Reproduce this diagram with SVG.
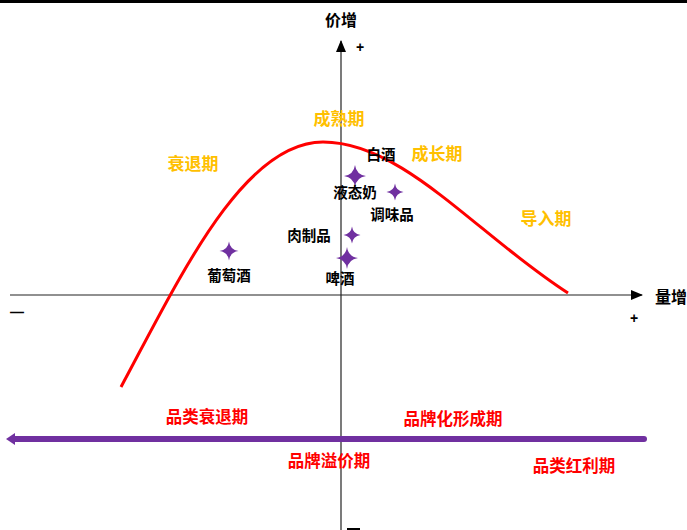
<svg xmlns="http://www.w3.org/2000/svg" width="687" height="530" viewBox="0 0 687 530" xmlns:xlink="http://www.w3.org/1999/xlink">
<style>
text{font-family:"Liberation Sans","Noto Sans CJK SC",sans-serif;font-weight:bold;text-anchor:middle;dominant-baseline:central}
.lbl{font-size:14.5px;fill:#000}
.stage{font-size:17px;fill:#FFC000}
.phase{font-size:16.5px;fill:#FF0000}
.ax{font-size:16px;fill:#000}
.sign{font-size:14px;fill:#000}
.star{fill:#7030A0}
</style>
<defs>
<path id="star" class="star" d="M0,-1 Q0.12,-0.12 1,0 Q0.12,0.12 0,1 Q-0.12,0.12 -1,0 Q-0.12,-0.12 0,-1Z"/>
<marker id="arrowBlack" markerWidth="12" markerHeight="10" refX="11" refY="5" orient="auto" markerUnits="userSpaceOnUse">
<path d="M0,0 L12,5 L0,10Z" fill="#000"/>
</marker>
</defs>
<rect x="0" y="0" width="687" height="530" fill="#fff"/>
<line x1="0" y1="1.5" x2="687" y2="1.5" stroke="#000" stroke-width="3"/>
<g id="connectors">
<line id="y-axis" x1="341" y1="530" x2="341" y2="41" stroke="#222" stroke-width="1.2" marker-end="url(#arrowBlack)"/>
<line id="x-axis" x1="10" y1="295" x2="642" y2="295" stroke="#222" stroke-width="1.2" marker-end="url(#arrowBlack)"/>
<path id="curve" d="M121,387 C180,277 243,142 323,142 C403,142 476,234 568,293" fill="none" stroke="#FF0000" stroke-width="3"/>
<path id="timeline" d="M644,439 L14,439" stroke="#7030A0" stroke-width="6" stroke-linecap="round" fill="none"/>
<path d="M6,439 L15,433 L15,445Z" fill="#7030A0"/>
</g>
<g id="axis-labels">
<text class="ax" x="341" y="20">价增</text>
<text class="ax" x="671" y="297">量增</text>
<text class="sign" x="360" y="47">+</text>
<text class="sign" x="634" y="318">+</text>
<text class="sign" x="17" y="312">—</text>
<line x1="347" y1="529" x2="360" y2="529" stroke="#000" stroke-width="2"/>
</g>
<g id="stages">
<text class="stage" x="339" y="119">成熟期</text>
<text class="stage" x="437" y="154">成长期</text>
<text class="stage" x="193" y="164">衰退期</text>
<text class="stage" x="546" y="219">导入期</text>
</g>
<g id="node-baijiu"><text class="lbl" x="381" y="155">白酒</text></g>
<g id="node-milk"><use xlink:href="#star" transform="translate(355,176) scale(11)"/><text class="lbl" x="355" y="193">液态奶</text></g>
<g id="node-seasoning"><use xlink:href="#star" transform="translate(395,192) scale(8.5)"/><text class="lbl" x="392" y="215">调味品</text></g>
<g id="node-meat"><use xlink:href="#star" transform="translate(352,235) scale(8.5)"/><text class="lbl" x="309" y="236">肉制品</text></g>
<g id="node-beer"><use xlink:href="#star" transform="translate(347,258) scale(11)"/><text class="lbl" x="340" y="279">啤酒</text></g>
<g id="node-wine"><use xlink:href="#star" transform="translate(229,251) scale(9.5)"/><text class="lbl" x="229" y="276">葡萄酒</text></g>
<g id="phases">
<text class="phase" x="207" y="417">品类衰退期</text>
<text class="phase" x="453" y="419">品牌化形成期</text>
<text class="phase" x="329" y="461">品牌溢价期</text>
<text class="phase" x="574" y="466">品类红利期</text>
</g>
</svg>
